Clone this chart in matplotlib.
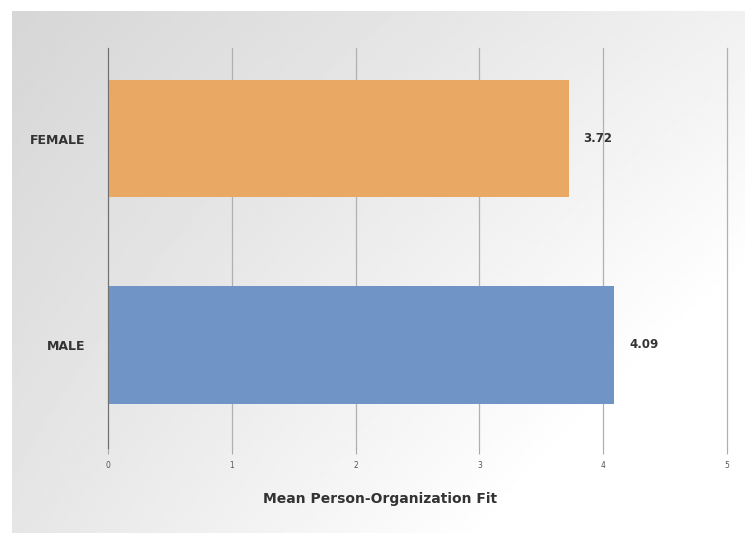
import numpy as np
import matplotlib.pyplot as plt

groups = ["MALE", "FEMALE"]
fit_means = [4.09, 3.72]
bar_colors = ["#7094c6", "#eaa865"]
x_ticks = [0, 1, 2, 3, 4, 5]

fig = plt.figure(figsize=(7.45, 5.33), dpi=100)

# grey-to-white backdrop panel
bg = fig.add_axes([12 / 745, 0, 733 / 745, 522 / 533])
yy, xx = np.mgrid[0:1:200j, 0:1:300j]
shade = np.clip(0.65 * xx + 0.38 * yy + 0.3 * xx * yy, 0, 1)
bg.imshow(0.84 + 0.16 * shade, cmap="gray", vmin=0, vmax=1,
          aspect="auto", extent=[0, 1, 0, 1], origin="upper")
bg.axis("off")

ax = fig.add_axes([108 / 745, (533 - 448) / 533, 619 / 745, 400 / 533])
ax.patch.set_alpha(0)
ax.barh(range(len(groups)), fit_means, height=0.57, color=bar_colors, zorder=2)
for i, v in enumerate(fit_means):
    ax.text(v + 0.12, i, f"{v:.2f}", va="center", ha="left",
            fontsize=8.5, fontweight="bold", color="#333333")

ax.set_xlim(0, 5)
ax.set_ylim(-0.5, 1.44)
ax.set_xticks(x_ticks)
ax.set_xticklabels([str(t) for t in x_ticks], fontsize=5.5, color="#555555")
ax.set_yticks(range(len(groups)))
ax.set_yticklabels(groups, fontsize=9, fontweight="bold", color="#333333")
ax.tick_params(axis="y", length=0, pad=16)
ax.tick_params(axis="x", length=4, color="#aaaaaa", pad=5)
ax.grid(axis="x", color="#b0b0b0", linewidth=0.9, zorder=0)
for line in ax.get_xgridlines():
    line.set_clip_on(False)
for side in ["top", "right", "bottom"]:
    ax.spines[side].set_visible(False)
ax.spines["left"].set_color("#707070")
ax.set_xlabel("Mean Person-Organization Fit", fontsize=10, fontweight="bold",
              color="#333333")
ax.xaxis.set_label_coords(0.44, -0.11)

fig.savefig("out.png", dpi=100)
